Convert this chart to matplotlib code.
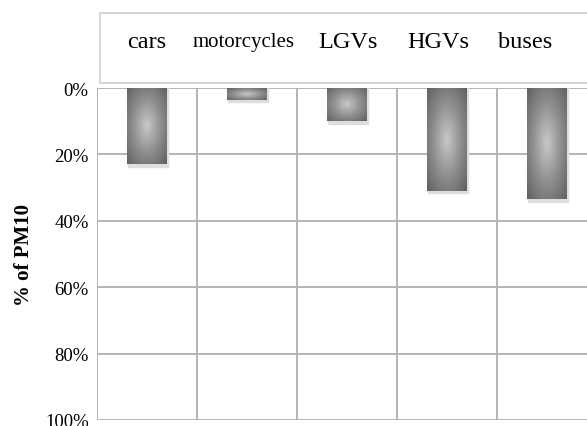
import numpy as np
import matplotlib.pyplot as plt
from matplotlib.patches import Rectangle
from matplotlib.colors import LinearSegmentedColormap

vehicles = ["cars", "motorcycles", "LGVs", "HGVs", "buses"]
pm10_share = [23, 3.5, 10, 31, 33.5]
yticks = [0, 20, 40, 60, 80, 100]
ytick_labels = ["0%", "20%", "40%", "60%", "80%", "100%"]

plt.rcParams['font.family'] = ['Liberation Serif', 'DejaVu Serif']

fig = plt.figure(figsize=(5.87, 4.27), dpi=100)
ax = fig.add_axes([97 / 587, 1 - 421 / 427, 500 / 587, 332 / 427])

x = np.arange(len(vehicles))
bars = ax.bar(x, pm10_share, width=0.4, color='none', zorder=3)

# radial grey gradient inside each bar
cmap = LinearSegmentedColormap.from_list("g", ["#c8c8c8", "#8e8e8e", "#5e5e5e"])
gx, gy = np.meshgrid(np.linspace(-1, 1, 60), np.linspace(-1, 1, 120))
r = np.sqrt(gx ** 2 + gy ** 2)
for b in bars:
    x0, w, h = b.get_x(), b.get_width(), b.get_height()
    # soft shadow under the bar
    ax.add_patch(Rectangle((x0 + 0.005, 0), w, h + 0.7, color='#dedede', zorder=2))
    im = ax.imshow(r, cmap=cmap, vmin=0, vmax=1.45, extent=[x0, x0 + w, h, 0],
                   aspect='auto', zorder=3, interpolation='bilinear')
    im.set_clip_path(b)

ax.set_xlim(-0.5, 4.5)
ax.set_ylim(100, 0)
ax.set_aspect('auto')
ax.set_yticks(yticks)
ax.set_yticklabels(ytick_labels, fontsize=13.5)
ax.set_xticks([])
ax.set_xticks(np.arange(-0.5, 5, 1), minor=True)
ax.grid(True, axis='y', color='#b4b4b4', lw=1.4, zorder=1)
ax.grid(True, axis='x', which='minor', color='#b4b4b4', lw=1.4, zorder=1)
ax.tick_params(axis='y', length=0, pad=6)
ax.tick_params(axis='x', which='both', length=0)
for s in ax.spines.values():
    s.set_visible(False)
ax.set_ylabel("% of PM10", fontsize=15, fontweight='bold', labelpad=8)

# header box with category names
fig.patches.append(Rectangle((100 / 587, 1 - 84 / 427), 1, 70 / 427,
                             transform=fig.transFigure, facecolor='white',
                             edgecolor='#cfcfcf', lw=1.2))
header_x = [147, 244, 348, 438, 525]
header_size = [17.5, 15, 17.5, 17.5, 17.5]
for name, hx, fs in zip(vehicles, header_x, header_size):
    fig.text(hx / 587, 1 - 43 / 427, name, ha='center', va='center', fontsize=fs)

fig.savefig("out.png", dpi=100)
